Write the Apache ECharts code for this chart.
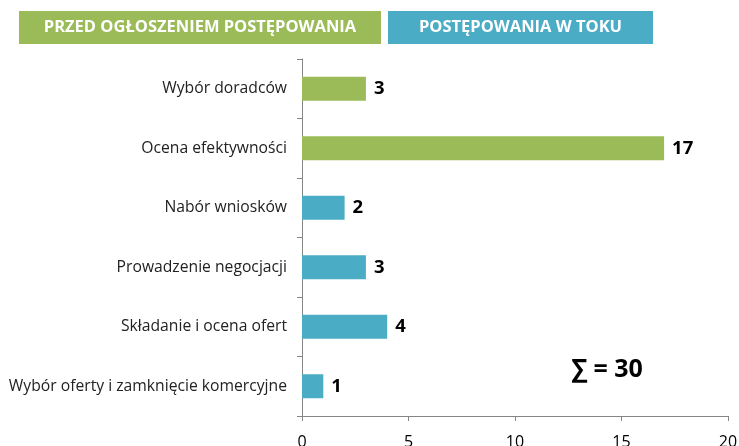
<!DOCTYPE html>
<html>
<head>
<meta charset="utf-8">
<script src="https://cdn.jsdelivr.net/npm/echarts@6/dist/echarts.min.js"></script>
<style>html,body{margin:0;padding:0;background:#fff;}#c{width:739px;height:446px;}</style>
</head>
<body>
<div id="c"></div>
<script>
var categories = ["Wybór doradców", "Ocena efektywności", "Nabór wniosków", "Prowadzenie negocjacji", "Składanie i ocena ofert", "Wybór oferty i zamknięcie komercyjne"];
var values = [3, 17, 2, 3, 4, 1];
var groups = [0, 0, 1, 1, 1, 1];
var groupNames = ["PRZED OGŁOSZENIEM POSTĘPOWANIA", "POSTĘPOWANIA W TOKU"];
var groupColors = ["#9BBB59", "#4BACC6"];
var xTicks = [0, 5, 10, 15, 20];
var total = values.reduce(function(a, b){ return a + b; }, 0);

var chart = echarts.init(document.getElementById('c'), null, {renderer: 'canvas'});
var font = "Open Sans, Liberation Sans, sans-serif";
chart.setOption({
  animation: false,
  grid: {left: 302, right: 11, top: 59, bottom: 30, containLabel: false, outerBoundsMode: 'none'},
  xAxis: {
    type: 'value', min: xTicks[0], max: xTicks[xTicks.length - 1], interval: 5,
    splitLine: {show: false},
    axisLine: {show: true, lineStyle: {color: '#868686'}},
    axisTick: {show: true, length: 5, lineStyle: {color: '#868686'}},
    axisLabel: {color: '#000', fontSize: 16, fontFamily: font, margin: 18}
  },
  yAxis: {
    type: 'category', data: categories, inverse: true,
    axisLine: {show: true, lineStyle: {color: '#868686'}},
    axisTick: {show: true, length: 5, lineStyle: {color: '#868686'}},
    axisLabel: {color: '#222', fontSize: 15.7, fontFamily: font, margin: 15}
  },
  series: [{
    type: 'bar',
    barWidth: 24,
    data: values.map(function(v, i){
      return {value: v, itemStyle: {color: groupColors[groups[i]]}};
    }),
    label: {show: true, position: 'right', distance: 8, color: '#000', fontWeight: 'bold', fontSize: 18.5, fontFamily: font}
  }],
  graphic: [
    {type: 'rect', shape: {x: 19, y: 11, width: 362, height: 33}, style: {fill: groupColors[0]}},
    {type: 'text', x: 19 + 362 / 2, y: 11 + 33 / 2, style: {text: groupNames[0], textAlign: 'center', textVerticalAlign: 'middle', fill: '#fff', font: 'bold 16.5px ' + font}},
    {type: 'rect', shape: {x: 388, y: 11, width: 265, height: 33}, style: {fill: groupColors[1]}},
    {type: 'text', x: 388 + 265 / 2, y: 11 + 33 / 2, style: {text: groupNames[1], textAlign: 'center', textVerticalAlign: 'middle', fill: '#fff', font: 'bold 16.5px ' + font}},
    {type: 'text', x: 607, y: 370, style: {text: '∑ = ' + total, textAlign: 'center', textVerticalAlign: 'middle', fill: '#000', font: 'bold 25px ' + font}}
  ]
});
</script>
</body>
</html>
